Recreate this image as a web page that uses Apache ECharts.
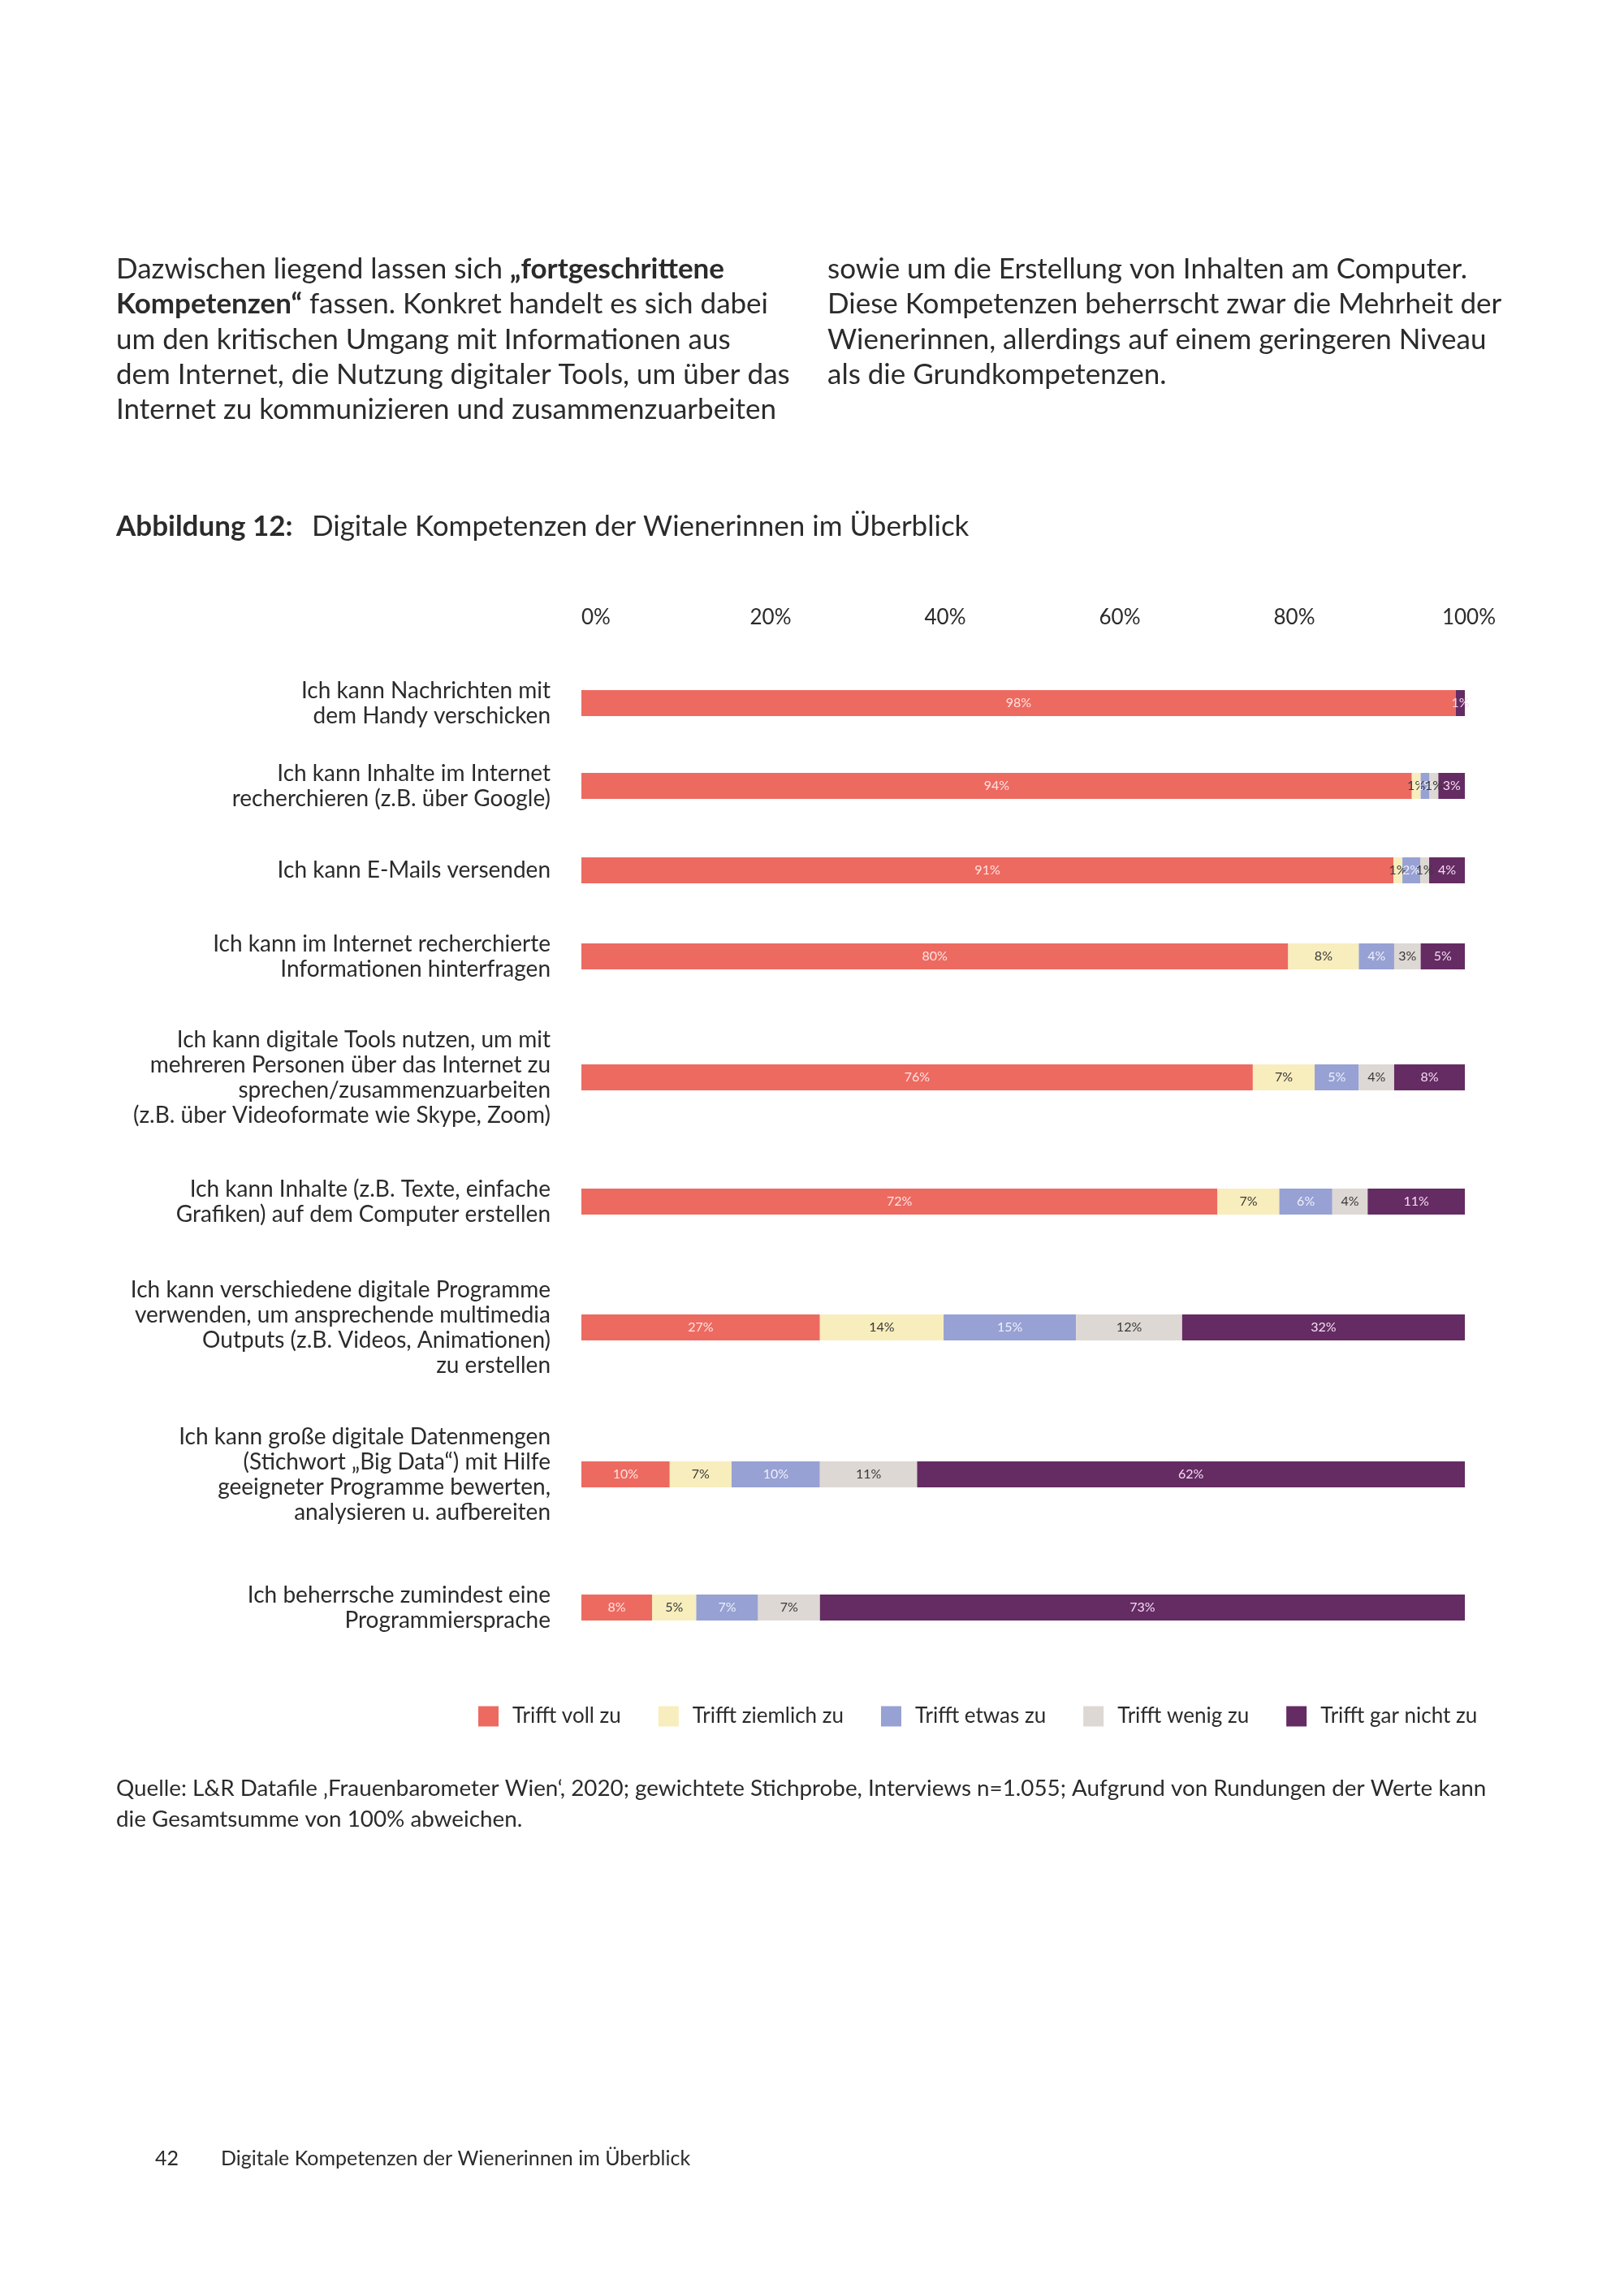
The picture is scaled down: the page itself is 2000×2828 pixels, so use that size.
<!DOCTYPE html>
<html>
<head>
<meta charset="utf-8">
<script src="https://cdn.jsdelivr.net/npm/echarts@6/dist/echarts.min.js"></script>
<style>
html,body{margin:0;padding:0;background:#fff;}
#chart{width:2000px;height:2828px;}
</style>
</head>
<body>
<div id="chart"></div>
<script>
// ---- Data ----
const categories = [
  'Ich kann Nachrichten mit\ndem Handy verschicken',
  'Ich kann Inhalte im Internet\nrecherchieren (z.B. über Google)',
  'Ich kann E-Mails versenden',
  'Ich kann im Internet recherchierte\nInformationen hinterfragen',
  'Ich kann digitale Tools nutzen, um mit\nmehreren Personen über das Internet zu\nsprechen/zusammenzuarbeiten\n(z.B. über Videoformate wie Skype, Zoom)',
  'Ich kann Inhalte (z.B. Texte, einfache\nGrafiken) auf dem Computer erstellen',
  'Ich kann verschiedene digitale Programme\nverwenden, um ansprechende multimedia\nOutputs (z.B. Videos, Animationen)\nzu erstellen',
  'Ich kann große digitale Datenmengen\n(Stichwort „Big Data“) mit Hilfe\ngeeigneter Programme bewerten,\nanalysieren u. aufbereiten',
  'Ich beherrsche zumindest eine\nProgrammiersprache'
];
const levelNames = ['Trifft voll zu', 'Trifft ziemlich zu', 'Trifft etwas zu', 'Trifft wenig zu', 'Trifft gar nicht zu'];
const trifftVoll     = [98, 94, 91, 80, 76, 72, 27, 10, 8];
const trifftZiemlich = [null, 1, 1, 8, 7, 7, 14, 7, 5];
const trifftEtwas    = [null, 1, 2, 4, 5, 6, 15, 10, 7];
const trifftWenig    = [null, 1, 1, 3, 4, 4, 12, 11, 7];
const trifftGarNicht = [1, 3, 4, 5, 8, 11, 32, 62, 73];
const axisTicks = [0, 20, 40, 60, 80, 100];

// ---- Layout / style ----
const levelValues = [trifftVoll, trifftZiemlich, trifftEtwas, trifftWenig, trifftGarNicht];
const levelColors = ['#ED6A61', '#F8EDBD', '#97A1D3', '#DDD8D4', '#652B63'];
const labelColors = ['#fde4e1', '#3a3a3a', '#eef0fb', '#3a3a3a', '#f3dcf1'];
const rowCenters = [866, 968, 1072, 1178, 1327, 1480, 1635, 1816, 1980];
const FONT = 'Lato, "Open Sans", sans-serif';
const TXT = '#2b2b2b';
const barH = 32;

const grids = [], xAxes = [], yAxes = [], series = [];
rowCenters.forEach((c, i) => {
  // each row is drawn as its full (rounded) total, as in the original figure
  const rowTotal = levelValues.reduce((s, arr) => s + (arr[i] || 0), 0);
  grids.push({left: 716, right: 196, top: c - barH / 2, height: barH});
  xAxes.push({type: 'value', gridIndex: i, min: 0, max: rowTotal, show: false});
  yAxes.push({
    type: 'category', gridIndex: i, data: [categories[i]],
    axisLine: {show: false}, axisTick: {show: false},
    axisLabel: {fontSize: 28, lineHeight: 31, color: TXT, margin: 38, fontFamily: FONT}
  });
  levelNames.forEach((name, k) => {
    series.push({
      type: 'bar', name: name, xAxisIndex: i, yAxisIndex: i, stack: 'row' + i,
      barWidth: barH, data: [levelValues[k][i]],
      itemStyle: {color: levelColors[k]},
      label: {
        show: true, position: 'inside', fontSize: 16, fontFamily: FONT,
        color: labelColors[k],
        formatter: p => (p.value == null ? '' : p.value + '%')
      },
      emphasis: {disabled: true}
    });
  });
});
// top percentage axis
grids.push({left: 734, right: 191, top: 774, height: 1});
xAxes.push({
  type: 'value', gridIndex: 9, position: 'top', min: axisTicks[0], max: axisTicks[axisTicks.length - 1],
  interval: axisTicks[1] - axisTicks[0],
  axisLine: {show: false}, axisTick: {show: false}, splitLine: {show: false},
  axisLabel: {formatter: '{value}%', fontSize: 26, color: TXT, margin: 0, fontFamily: FONT}
});
yAxes.push({type: 'value', gridIndex: 9, show: false});

function line(x, y, rich, size) {
  return {
    type: 'text', x: x, y: y,
    style: {
      text: rich, verticalAlign: 'middle', fill: TXT,
      font: size + 'px ' + FONT,
      rich: {
        r: {fontSize: size, fontFamily: FONT, fill: TXT},
        b: {fontSize: size, fontFamily: FONT, fill: TXT, fontWeight: 'bold'}
      }
    }
  };
}
const P = 35;
const graphics = [
  line(143, 332, '{r|Dazwischen liegend lassen sich }{b|„fortgeschrittene}', P),
  line(143, 375, '{b|Kompetenzen“}{r| fassen. Konkret handelt es sich dabei}', P),
  line(143, 419, '{r|um den kritischen Umgang mit Informationen aus}', P),
  line(143, 462, '{r|dem Internet, die Nutzung digitaler Tools, um über das}', P),
  line(143, 505, '{r|Internet zu kommunizieren und zusammenzuarbeiten}', P),
  line(1019, 332, '{r|sowie um die Erstellung von Inhalten am Computer.}', P),
  line(1019, 375, '{r|Diese Kompetenzen beherrscht zwar die Mehrheit der}', P),
  line(1019, 419, '{r|Wienerinnen, allerdings auf einem geringeren Niveau}', P),
  line(1019, 462, '{r|als die Grundkompetenzen.}', P),
  line(143, 649, '{b|Abbildung 12:}', 35),
  line(384, 649, '{r|Digitale Kompetenzen der Wienerinnen im Überblick}', 35),
  line(143, 2203, '{r|Quelle: L&R Datafile ‚Frauenbarometer Wien‘, 2020; gewichtete Stichprobe, Interviews n=1.055; Aufgrund von Rundungen der Werte kann}', 27.8),
  line(143, 2241, '{r|die Gesamtsumme von 100% abweichen.}', 27.8),
  line(191, 2659, '{r|42}', 25),
  line(272, 2659, '{r|Digitale Kompetenzen der Wienerinnen im Überblick}', 25)
];

const chart = echarts.init(document.getElementById('chart'), null, {renderer: 'canvas'});
chart.setOption({
  backgroundColor: '#ffffff',
  animation: false,
  grid: grids, xAxis: xAxes, yAxis: yAxes, series: series,
  legend: {
    data: levelNames, left: 584, top: 2096, icon: 'rect',
    itemWidth: 25, itemHeight: 25, itemGap: 46,
    textStyle: {fontSize: 26, color: TXT, fontFamily: FONT, padding: [0, 0, 0, 12]},
    selectedMode: false
  },
  graphic: graphics
});
</script>
</body>
</html>
